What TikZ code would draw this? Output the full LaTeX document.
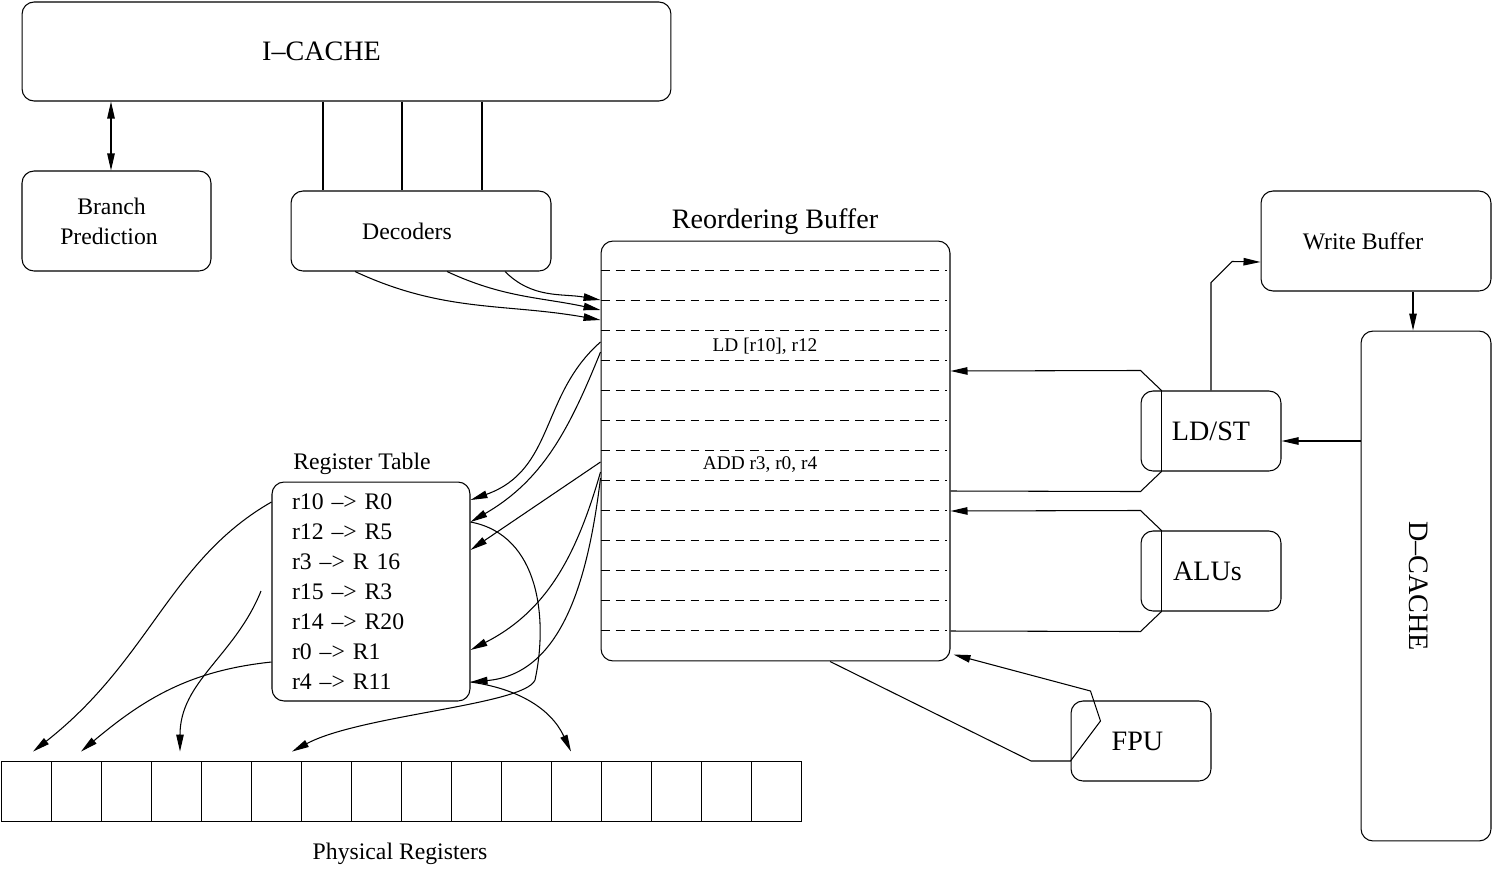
\documentclass[tikz,border=0pt]{standalone}
\usepackage{fontspec}
\setmainfont{Liberation Serif}
\usepackage{graphicx}
\usetikzlibrary{positioning,arrows.meta,calc}

\begin{document}
\begin{tikzpicture}[
  x=0.02cm, y=-0.02cm,
  >={Triangle[length=3.4mm, width=1.5mm]},
  line width=0.6pt,
  box/.style={rectangle, draw, rounded corners=2.4mm, inner sep=0pt, align=center},
  cell/.style={rectangle, draw, line width=0.5pt, minimum width=10mm, minimum height=12mm, inner sep=0pt},
  big/.style={font=\fontsize{16}{19}\selectfont},
  mid/.style={font=\fontsize{13.5}{17}\selectfont},
  instr/.style={font=\fontsize{11}{13}\selectfont},
  robrow/.style={dash pattern=on 1.8mm off 1.2mm, line width=0.5pt},
]
  \useasboundingbox (0,0) rectangle (1493,869);

  % Front end
  \node[box, big, minimum width=129.8mm, minimum height=19.8mm] (icache) at (346.5,51.5) {\hspace*{-10mm}I--CACHE};
  \node[box, mid, minimum width=37.8mm, minimum height=20mm] (bp) at (116.5,221) {\hspace*{-2mm}Branch\\\hspace*{-3mm}Prediction};
  \node[box, mid, minimum width=52mm, minimum height=16mm] (dec) at (421,231) {\hspace*{-5.6mm}Decoders};

  % Reordering buffer
  \node[box, minimum width=69.8mm, minimum height=84mm] (rob) at (775.5,451) {};
  \node[big] (robtitle) at (775,222) {Reordering Buffer};
  \foreach \i in {1,...,13}
    \draw[robrow] ([yshift=-6mm*\i]rob.north west) -- ([yshift=-6mm*\i, xshift=-0.8mm]rob.north east);
  \node[instr] (ldins) at (765,346) {LD [r10], r12};
  \node[instr] (addins) at (760,465) {ADD r3, r0, r4};

  % Register table
  \node[box, mid, minimum width=39.6mm, minimum height=43.8mm, text width=31.6mm, align=left, inner xsep=4mm] (rt) at (371,591.5)
    {r10 --> R0\\r12 --> R5\\r3 --> R 16\\r15 --> R3\\r14 --> R20\\r0 --> R1\\r4 --> R11};
  \node[mid] (rttitle) at (362,464) {Register Table};

  % Physical registers
  \foreach \i in {1,...,16}
    \node[cell] (pr\i) at ({26+50*(\i-1)},791) {};
  \node[mid] (prtitle) at (400,854) {Physical Registers};

  % Execution units and data side
  \node[box, big, minimum width=28mm, minimum height=16mm] (ldst) at (1211,431) {LD/ST};
  \node[box, big, minimum width=28mm, minimum height=16mm] (alu) at (1211,571) {\hspace*{-1.4mm}ALUs};
  \node[box, big, minimum width=28mm, minimum height=16mm] (fpu) at (1141,741) {\hspace*{-1.4mm}FPU};
  \node[box, mid, minimum width=46mm, minimum height=20mm] (wb) at (1376,241) {\hspace*{-5.2mm}Write Buffer};
  \node[box, big, minimum width=26mm, minimum height=102mm] (dc) at (1426,586) {\rotatebox{-90}{D--CACHE}\hspace*{3mm}};

  % Fetch and decode
  \draw[<->] (bp.north -| 111,0) -- (icache.south -| 111,0);
  \foreach \x in {323,402,482}
    \draw (icache.south -| \x,0) -- (dec.north -| \x,0);
  \draw[->] (dec.south -| 505,0) to[out=-45,in=170] (rob.west |- 0,300);
  \draw[->] (dec.south -| 447,0) to[out=-25,in=168] (rob.west |- 0,310);
  \draw[->] (dec.south -| 355,0) to[out=-25,in=170] (rob.west |- 0,320);

  % Buffer -> register table
  \draw[->] (rob.west |- 0,342) .. controls (540,395) and (555,470) .. (rt.east |- 0,500);
  \draw[->] (rob.west |- 0,352) to[out=-112,in=30] (rt.east |- 0,522);
  \draw[->] (rob.west |- 0,462) -- (rt.east |- 0,550);
  \draw[->] (rob.west |- 0,472) to[out=-106,in=27] (rt.east |- 0,650);
  \draw[->] (rob.west |- 0,478) to[out=-97,in=5] (rt.east |- 0,682);

  % Register table -> physical registers
  \coordinate (leak) at (261,591);
  \draw[->] (rt.west |- 0,502) .. controls (170,560) and (150,660) .. ($(pr1.north)+(7,-9)$);
  \draw[->] (rt.west |- 0,662) to[out=186,in=40] ($(pr2.north)+(5,-9)$);
  \draw[->] (leak) to[out=-112,in=90] ($(pr4.north)+(4,-9)$);
  \draw[->] (rt.east |- 0,522) .. controls (540,535) and (548,620) .. (535,680)
    .. controls (525,705) and (360,715) .. ($(pr6.north)+(16,-9)$);
  \draw[->] (rt.east |- 0,682) to[out=-8,in=115] ($(pr12.north)+(-5,-9)$);

  % Units <-> buffer
  \foreach \u/\a/\b in {ldst/371/491, alu/511/631} {
    \draw ([xshift=4.2mm]\u.north west) -- ([xshift=4.2mm]\u.south west);
    \draw[->] ([xshift=4.2mm]\u.north west) -- ++(-21,-20) -- (rob.east |- 0,\a);
    \draw ([xshift=4.2mm]\u.south west) -- ++(-21,20) -- (rob.east |- 0,\b);
  }
  \draw[->] (rob.south -| 830,0) -- (1031,761) -- (fpu.west |- 0,761) -- ++(30,-40) -- ++(-10,-30)
    -- ($(rob.south east)+(3,-7)$);

  % Memory side
  \draw[->] (ldst.north) -- ++(0,-108) -- ++(21,-21) -- (wb.west |- 0,262);
  \draw[->] (wb.south -| 1413,0) -- (dc.north -| 1413,0);
  \draw[->] (dc.west |- 0,441) -- (ldst.east |- 0,441);
\end{tikzpicture}
\end{document}
